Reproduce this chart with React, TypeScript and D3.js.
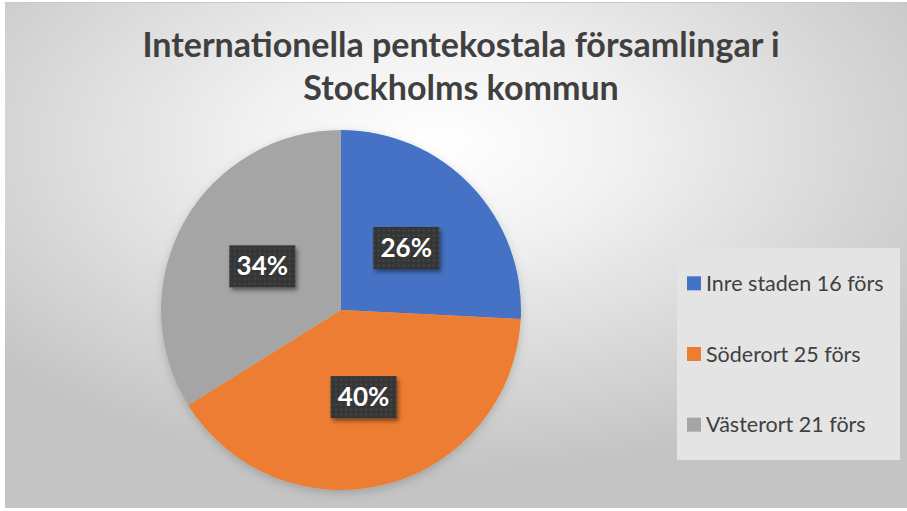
import React from 'react';
import * as d3 from 'd3';

const titleLines = ['Internationella pentekostala församlingar i', 'Stockholms kommun'];
const categories = ['Inre staden', 'Söderort', 'Västerort'];
const counts = [16, 25, 21];
const unitLabel = 'förs';
const sliceColors = ['#4472C4', '#ED7D31', '#A5A5A5'];

export default function App() {
  const width = 907;
  const height = 511;
  const cx = 341;
  const cy = 310;
  const radius = 180;

  const total = d3.sum(counts);
  const pie = d3.pie<number>().sort(null).value(d => d)(counts);
  const arc = d3.arc<d3.PieArcDatum<number>>().innerRadius(0).outerRadius(radius);
  const labelArc = d3.arc<d3.PieArcDatum<number>>().innerRadius(radius / 2).outerRadius(radius / 2);

  const legendX = 677;
  const legendY = 248;
  const legendRow = d3.scaleBand<number>().domain(d3.range(categories.length)).range([0, 212]);

  const font = 'Lato, "Open Sans", sans-serif';

  return (
    <svg width={width} height={height} style={{ position: 'absolute', left: 0, top: 0 }}>
      <defs>
        <radialGradient id="bg" cx="48%" cy="28%" r="65%">
          <stop offset="0%" stopColor="#ffffff" />
          <stop offset="30%" stopColor="#f2f2f2" />
          <stop offset="100%" stopColor="#c4c4c4" />
        </radialGradient>
        <pattern id="dots" width="5" height="5" patternUnits="userSpaceOnUse">
          <rect width="5" height="5" fill="#363636" />
          <circle cx="2.5" cy="2.5" r="1" fill="#4a4a4a" />
        </pattern>
        <filter id="boxShadow" x="-20%" y="-20%" width="150%" height="160%">
          <feDropShadow dx="2" dy="3" stdDeviation="2" floodColor="#000" floodOpacity="0.45" />
        </filter>
        <filter id="pieShadow" x="-10%" y="-10%" width="125%" height="125%">
          <feDropShadow dx="0" dy="3" stdDeviation="5" floodColor="#000" floodOpacity="0.18" />
        </filter>
      </defs>
      <rect width={width} height={height} fill="#ffffff" />
      <rect x={5} y={2} width={width - 5} height={height - 5} fill="url(#bg)" />
      <line x1={5} x2={width} y1={2.5} y2={2.5} stroke="#c8c8c8" strokeWidth={1} />

      {/* Title */}
      {titleLines.map((t, i) => (
        <text
          key={i}
          x={461}
          y={57 + i * 43}
          textAnchor="middle"
          fontFamily={font}
          fontWeight="bold"
          fontSize={34}
          fill="#404040"
        >
          {t}
        </text>
      ))}

      {/* Pie */}
      <g transform={`translate(${cx},${cy})`} filter="url(#pieShadow)">
        {pie.map((d, i) => (
          <path key={i} d={arc(d) || ''} fill={sliceColors[i]} />
        ))}
      </g>

      {/* Data labels */}
      <g transform={`translate(${cx},${cy})`}>
        {pie.map((d, i) => {
          const [lx, ly] = labelArc.centroid(d);
          const pct = Math.round((d.value / total) * 100) + '%';
          return (
            <g key={i} transform={`translate(${lx},${ly})`}>
              <rect x={-33} y={-21} width={66} height={42} fill="url(#dots)" filter="url(#boxShadow)" />
              <text
                y={9}
                textAnchor="middle"
                fontFamily={font}
                fontWeight="bold"
                fontSize={26}
                fill="#ffffff"
              >
                {pct}
              </text>
            </g>
          );
        })}
      </g>

      {/* Legend */}
      <rect x={legendX} y={legendY} width={223} height={212} fill="#e4e4e4" />
      {categories.map((c, i) => {
        const y = legendY + (legendRow(i) || 0) + legendRow.bandwidth() / 2;
        return (
          <g key={c}>
            <rect x={legendX + 10} y={y - 7} width={14} height={14} fill={sliceColors[i]} />
            <text
              x={legendX + 29}
              y={y + 7.5}
              fontFamily={font}
              fontSize={21.5}
              fill="#404040"
            >
              {`${c} ${counts[i]} ${unitLabel}`}
            </text>
          </g>
        );
      })}
    </svg>
  );
}
